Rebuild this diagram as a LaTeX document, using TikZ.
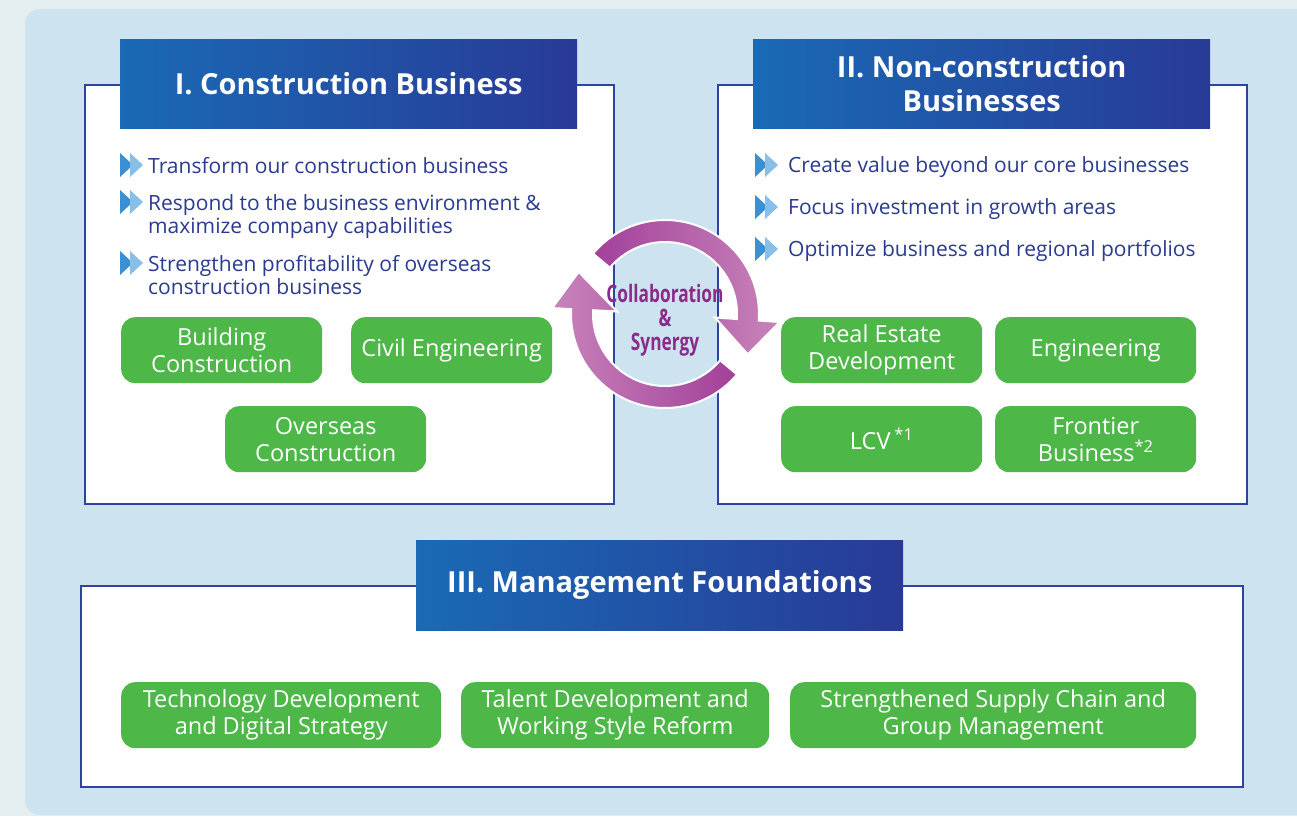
\documentclass[tikz,border=0pt]{standalone}
\usepackage{fontspec}
\setmainfont{Open Sans}
\newfontfamily\synfont[FakeStretch=0.72]{Open Sans}
\usepackage{tikz}
\usetikzlibrary{calc}
\definecolor{bgouter}{HTML}{E4EDF0}
\definecolor{panelbg}{HTML}{CDE4F0}
\definecolor{boxline}{HTML}{2F449E}
\definecolor{titleleft}{HTML}{1A6AB5}
\definecolor{titleright}{HTML}{283A97}
\definecolor{unitgreen}{HTML}{4DB748}
\definecolor{textblue}{HTML}{2A3B90}
\definecolor{chevdark}{HTML}{3B8FD3}
\definecolor{chevlight}{HTML}{88BFE9}
\definecolor{cycdark}{HTML}{A2409A}
\definecolor{cyclight}{HTML}{C884BA}
\definecolor{syncol}{HTML}{8C2A8B}
\tikzset{
  chev/.pic={
    \fill[chevdark] (0,-12) -- (13,0) -- (0,12) -- cycle;
    \fill[chevlight] (10,-12) -- (23,0) -- (10,12) -- cycle;
  }
}

\begin{document}
\begin{tikzpicture}[x=1pt,y=-1pt,
  bizbox/.style={draw=boxline, line width=1.6pt, fill=white, anchor=north west, inner sep=0pt},
  titlebox/.style={left color=titleleft, right color=titleright, text=white, anchor=north west,
    align=center, inner sep=0pt, minimum width=457pt, minimum height=89pt,
    font=\fontsize{29}{34}\selectfont\bfseries},
  unit/.style={fill=unitgreen, rounded corners=14pt, text=white, align=center, anchor=north west,
    inner sep=0pt, minimum width=201pt, minimum height=66pt, font=\fontsize{23.5}{27}\selectfont},
  bullet/.style={text=textblue, align=left, anchor=base west, inner sep=0pt,
    font=\fontsize{21}{23}\selectfont},
  cyc/.style={draw=white, line width=2pt}]
\clip (0,0) rectangle (1297,816);
\fill[bgouter] (0,0) rectangle (1297,816);
\fill[panelbg, rounded corners=15pt] (25,9) rectangle (1340,815);

% I. construction
\node[bizbox, minimum width=529pt, minimum height=419pt] (boxI) at (84,84) {};
\node[titlebox] (titleI) at (120,39) {I. Construction Business};
\foreach \y in {165,202,263} \pic at (120,\y) {chev};
\node[bullet] (bI1) at (148,173) {Transform our construction business};
\node[bullet] (bI2) at (148,233) {Respond to the business environment \&\\maximize company capabilities};
\node[bullet] (bI3) at (148,294) {Strengthen profitability of overseas\\construction business};
\node[unit] (bldg) at (121,317) {Building\\Construction};
\node[unit] (civil) at (351,317) {Civil Engineering};
\node[unit] (overseas) at (225,406) {Overseas\\Construction};

% II. non-construction
\node[bizbox, minimum width=529pt, minimum height=419pt] (boxII) at (717,84) {};
\node[titlebox] (titleII) at (753,39) {II. Non-construction\\Businesses};
\foreach \y in {165,207,249} \pic at (755,\y) {chev};
\node[bullet] (bII1) at (788,172) {Create value beyond our core businesses};
\node[bullet] (bII2) at (788,214) {Focus investment in growth areas};
\node[bullet] (bII3) at (788,256) {Optimize business and regional portfolios};
\node[unit] (realest) at (781,317) {Real Estate\\Development};
\node[unit] (eng) at (995,317) {Engineering};
\node[unit] (lcv) at (781,406) {LCV\,\textsuperscript{*1}};
\node[unit] (frontier) at (995,406) {Frontier\\Business\textsuperscript{*2}};

% III. foundations
\node[bizbox, minimum width=1162pt, minimum height=201pt] (boxIII) at (80,585) {};
\node[titlebox, minimum width=487pt, minimum height=90pt] (titleIII) at (416,540) {III. Management Foundations};
\node[unit, minimum width=320pt] (tech) at (121,682) {Technology Development\\and Digital Strategy};
\node[unit, minimum width=308pt] (talent) at (461,682) {Talent Development and\\Working Style Reform};
\node[unit, minimum width=406pt] (supply) at (790,682) {Strengthened Supply Chain and\\Group Management};

% collaboration cycle
\coordinate (cycc) at (665,314);
\path[cyc, left color=cycdark, right color=cyclight]
  ($(cycc)+(140:94pt)$) arc[start angle=140, end angle=-4, radius=94pt]
  -- ($(cycc)+(-4:115pt)$) -- ($(cycc)+(-26:92pt)$) -- ($(cycc)+(-4:50pt)$)
  -- ($(cycc)+(-4:72pt)$) arc[start angle=-4, end angle=140, radius=72pt] -- cycle;
\path[cyc, left color=cyclight, right color=cycdark]
  ($(cycc)+(-40:94pt)$) arc[start angle=-40, end angle=-183, radius=94pt]
  -- ($(cycc)+(177:113pt)$) -- ($(cycc)+(154:96pt)$) -- ($(cycc)+(177:48pt)$)
  -- ($(cycc)+(177:72pt)$) arc[start angle=-183, end angle=-40, radius=72pt] -- cycle;
\node[text=syncol, align=center, inner sep=0pt, font=\synfont\bfseries\fontsize{24}{24}\selectfont] (syn) at (665,320) {Collaboration\\\&\\Synergy};
\end{tikzpicture}
\end{document}
